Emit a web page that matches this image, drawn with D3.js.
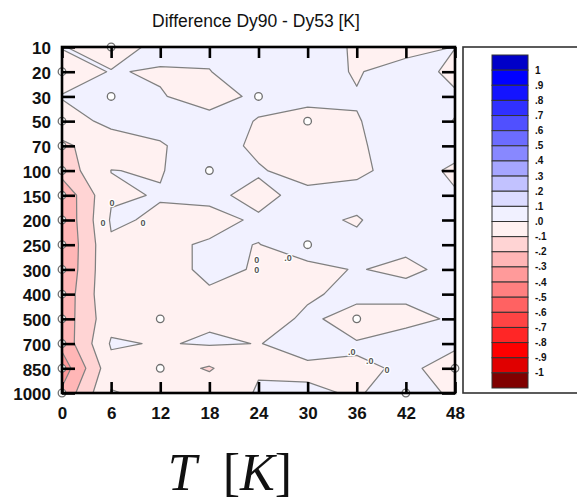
<!DOCTYPE html>
<html>
<head>
<meta charset="utf-8">
<script src="https://cdn.jsdelivr.net/npm/d3@7"></script>
<style>
body { margin: 0; background: #fff; }
svg { display: block; font-family: "Liberation Sans", Arial, sans-serif; }
</style>
</head>
<body>
<script>
// x axis: forecast hour, y axis: pressure level (hPa)
var hours = [0, 6, 12, 18, 24, 30, 36, 42, 48];
var levels = [10, 20, 30, 50, 70, 100, 150, 200, 250, 300, 400, 500, 700, 850, 1000];

// Dy90 - Dy53 temperature difference [K], one row per level, one value per hour
var d10   = [ 0.005, -0.05,   0.03,    0.015,   0.03,    0.04,   -0.01,   -0.05,    0.002];
var d20   = [-0.05,   0.005, -0.008,  -0.002,   0.04,    0.05,   -0.01,    0.06,   -0.03];
var d30   = [ 0.005,  0.03,   0.005,  -0.03,    0.015,   0.031,   0.007,   0.05,    0.015];
var d50   = [-0.035,  0.019,  0.03,    0.024,  -0.003,  -0.04,   -0.005,   0.045,  -0.003];
var d70   = [-0.12,  -0.04,  -0.0075,  0.045,  -0.02,   -0.05,   -0.02,    0.07,    0.032];
var d100  = [-0.16,   0.001, -0.004,   0.04,    0.009,  -0.04,   -0.02,    0.04,   -0.015];
var d150  = [-0.28,  -0.01,   0.004,   0.017,  -0.022,   0.027,   0.034,   0.05,    0.0074];
var d200  = [-0.29,   0.01,  -0.01,   -0.022,   0.01,    0.02,   -0.008,   0.059,   0.03];
var d250  = [-0.295, -0.011, -0.013,   0.007,  -0.001,   0.02,    0.02,    0.009,   0.03];
var d300  = [-0.29,  -0.01,  -0.056,   0.03,   -0.01,   -0.01,    0.0022, -0.0088,  0.0117];
var d400  = [-0.27,  -0.01,  -0.03,   -0.017,  -0.02,   -0.01,    0.02,    0.0156,  0.03];
var d500  = [-0.26,  -0.03,  -0.03,   -0.01,   -0.036,   0.0135, -0.03,   -0.023,   0.0103];
var d700  = [-0.27,   0.01,  -0.0059,  0.0085, -0.0016,  0.018,   0.0043,  0.038,   0.0028];
var d850  = [-0.36,  -0.03,  -0.054,  -0.11,   -0.0046, -0.0085, -0.0047,  0.0035, -0.0071];
var d1000 = [-0.28,   0.005, -0.02,   -0.037,   0.005,   0.0067, -0.0039,  0.02,   -0.0074];

// small circle markers (hour, level)
var markHours  = [6, 6, 24, 30, 18, 30, 12, 36, 12, 42, 48,
                  0, 0, 0, 0, 0, 0, 0, 0, 0, 0, 0, 0, 0];
var markLevels = [10, 30, 30, 50, 100, 250, 500, 500, 850, 1000, 850,
                  20, 50, 70, 100, 150, 200, 250, 300, 400, 500, 700, 850, 1000];

// zero-line labels: hour and fractional level index
var zeroLabelHours = [6.1, 5.0, 9.9, 23.8, 23.8, 27.6, 35.4, 37.6, 39.7];
var zeroLabelRows  = [6.3, 7.1, 7.1, 8.6, 9.0, 8.55, 12.35, 12.7, 13.05];
var zeroLabelText  = ["0", "0", "0", "0", "0", ".0", ".0", ".0", "0"];

// colour bar, top (> 1) to bottom (< -1), and its labels
var legendLabels = ["1", ".9", ".8", ".7", ".6", ".5", ".4", ".3", ".2", ".1", ".0",
                    "-.1", "-.2", "-.3", "-.4", "-.5", "-.6", "-.7", "-.8", "-.9", "-1"];
var bandColors = ["#0000c8", "#0000ff", "#1414ff", "#3030ff", "#5050ff", "#6c6cff", "#8888ff",
                  "#a6a6ff", "#c2c2ff", "#dcdcff", "#f1f1ff",
                  "#fff1f1", "#ffd4d4", "#ffb6b6", "#ff9a9a", "#ff8080", "#ff6262", "#ff4444",
                  "#ff2626", "#ff0000", "#e00000", "#800000"];

var rows = [d10, d20, d30, d50, d70, d100, d150, d200, d250, d300, d400, d500, d700, d850, d1000];

var w = 577, h = 501;
var svg = d3.select("body").append("svg")
    .attr("width", w)
    .attr("height", h);

var x = d3.scaleLinear().domain([0, 48]).range([62, 455]);
var y = d3.scalePoint().domain(levels).range([47, 393]);
var nx = hours.length, ny = levels.length;
var xIdx = d3.scaleLinear().domain([0, nx - 1]).range([x(hours[0]), x(hours[nx - 1])]);
var yIdx = d3.scaleLinear().domain([0, ny - 1]).range(y.range());

// contour the negated field so that every band is "value >= t"
var neg = [];
rows.forEach(function(r) { r.forEach(function(v) { neg.push(-v); }); });
var steps = d3.range(-10, 11).map(function(i) { return i / 10; });
var contours = d3.contours().size([nx, ny]).thresholds(steps)(neg);

function clampTo(v, n) { return Math.max(0, Math.min(n - 1, v - 0.5)); }
var gridProj = d3.geoTransform({
    point: function(px, py) {
        this.stream.point(xIdx(clampTo(px, nx)), yIdx(clampTo(py, ny)));
    }
});
var path = d3.geoPath(gridProj);

svg.append("clipPath").attr("id", "plotclip")
  .append("rect")
    .attr("x", x(0)).attr("y", y(10))
    .attr("width", x(48) - x(0)).attr("height", y(1000) - y(10));

var plot = svg.append("g").attr("clip-path", "url(#plotclip)");

plot.selectAll(".band")
    .data(contours)
    .enter().append("path")
    .attr("class", "band")
    .attr("d", path)
    .attr("fill", function(d) { return bandColors[11 + Math.round(d.value * 10)]; })
    .attr("stroke", "#808080")
    .attr("stroke-width", 1.25)
    .attr("stroke-linejoin", "round");

// labels sitting on the zero line
plot.selectAll(".zlab")
    .data(zeroLabelText)
    .enter().append("text")
    .attr("class", "zlab")
    .attr("x", function(d, i) { return x(zeroLabelHours[i]); })
    .attr("y", function(d, i) { return yIdx(zeroLabelRows[i]); })
    .attr("dy", "0.35em")
    .attr("text-anchor", "middle")
    .attr("font-size", 9)
    .attr("font-weight", "bold")
    .attr("fill", "#555")
    .attr("stroke", "#fff")
    .attr("stroke-width", 2.5)
    .attr("paint-order", "stroke")
    .text(function(d) { return d; });

// markers
svg.append("g").selectAll("circle")
    .data(markHours.map(function(hr, i) { return [hr, markLevels[i]]; }))
    .enter().append("circle")
    .attr("cx", function(d) { return x(d[0]); })
    .attr("cy", function(d) { return y(d[1]); })
    .attr("r", 3.8)
    .attr("fill", "#fff")
    .attr("stroke", "#707070")
    .attr("stroke-width", 1.3);

// axes (inward ticks on all four sides)
var axisStyle = function(g) {
    g.select(".domain").remove();
    g.selectAll(".tick line").attr("stroke", "#000").attr("stroke-width", 2.6);
    g.selectAll("text").attr("fill", "#111").attr("font-size", 17).attr("font-weight", "bold");
};
svg.append("g")
    .attr("transform", "translate(" + x(0) + ",0)")
    .call(d3.axisLeft(y).tickSize(-13).tickPadding(11))
    .call(axisStyle)
    .selectAll("text").attr("dy", "0.4em");
svg.append("g")
    .attr("transform", "translate(" + x(48) + ",0)")
    .call(d3.axisRight(y).tickSize(-13).tickFormat(""))
    .call(axisStyle);
svg.append("g")
    .attr("transform", "translate(0," + y(1000) + ")")
    .call(d3.axisBottom(x).tickValues(hours).tickSize(-11).tickPadding(14))
    .call(axisStyle);
svg.append("g")
    .attr("transform", "translate(0," + y(10) + ")")
    .call(d3.axisTop(x).tickValues(hours).tickSize(-11).tickFormat(""))
    .call(axisStyle);

// frame
svg.append("rect")
    .attr("x", x(0)).attr("y", y(10))
    .attr("width", x(48) - x(0)).attr("height", y(1000) - y(10))
    .attr("fill", "none")
    .attr("stroke", "#000")
    .attr("stroke-width", 2.6);

// title
svg.append("text")
    .attr("x", 256).attr("y", 27)
    .attr("text-anchor", "middle")
    .attr("font-size", 17.5)
    .attr("fill", "#111")
    .text("Difference Dy90 - Dy53 [K]");

// x label
var xl = svg.append("text")
    .attr("x", 230).attr("y", 490)
    .attr("text-anchor", "middle")
    .attr("font-family", "'Liberation Serif', 'DejaVu Serif', serif")
    .attr("font-size", 52)
    .attr("fill", "#111");
xl.append("tspan").attr("font-style", "italic").text("T");
xl.append("tspan").text("\u2002[");
xl.append("tspan").attr("font-style", "italic").text("K");
xl.append("tspan").text("]");

// legend
var legend = svg.append("g");
legend.append("rect")
    .attr("x", 463).attr("y", 47)
    .attr("width", 140).attr("height", 346)
    .attr("fill", "#fff")
    .attr("stroke", "#333")
    .attr("stroke-width", 1.6);

var cb = d3.scaleBand().domain(d3.range(bandColors.length)).range([55, 388]);
legend.selectAll(".box")
    .data(bandColors)
    .enter().append("rect")
    .attr("class", "box")
    .attr("x", 492).attr("width", 36)
    .attr("y", function(d, i) { return cb(i); })
    .attr("height", cb.bandwidth())
    .attr("fill", function(d) { return d; })
    .attr("stroke", "#333")
    .attr("stroke-width", 1);

legend.selectAll(".lab")
    .data(legendLabels)
    .enter().append("text")
    .attr("class", "lab")
    .attr("x", 535)
    .attr("y", function(d, i) { return cb(i + 1); })
    .attr("dy", "0.35em")
    .attr("font-size", 10)
    .attr("font-weight", "bold")
    .attr("fill", "#111")
    .text(function(d) { return d; });
</script>
</body>
</html>
